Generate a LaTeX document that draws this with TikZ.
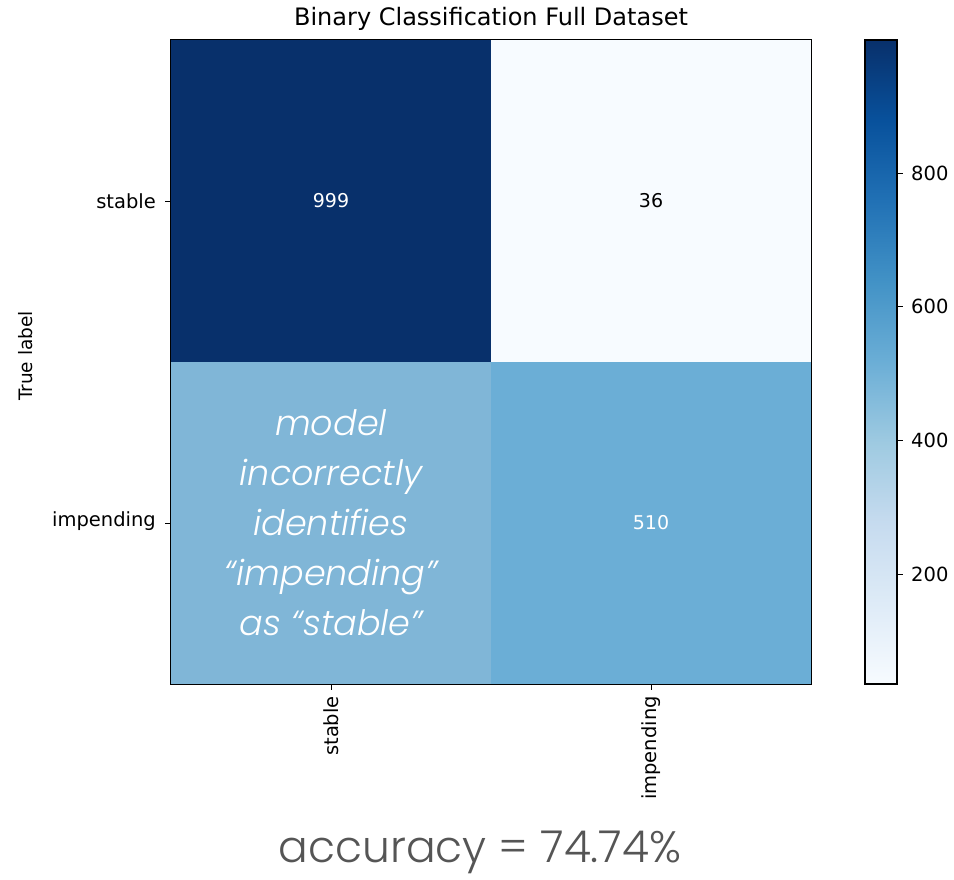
\documentclass[tikz,border=0pt]{standalone}
\usepackage{fontspec}
\setmainfont{DejaVu Sans}
\newfontfamily\notefont{Poppins Light}[ItalicFont={Poppins Light Italic}]
\usepackage{tikz}
\usetikzlibrary{positioning}

\definecolor{bluesA}{HTML}{F7FBFF}
\definecolor{bluesB}{HTML}{DEEBF7}
\definecolor{bluesC}{HTML}{C6DBEF}
\definecolor{bluesD}{HTML}{9ECAE1}
\definecolor{bluesE}{HTML}{6BAED6}
\definecolor{bluesF}{HTML}{4292C6}
\definecolor{bluesG}{HTML}{2171B5}
\definecolor{bluesH}{HTML}{08519C}
\definecolor{bluesI}{HTML}{08306B}
\definecolor{cellmiss}{HTML}{80B6D7}
\definecolor{cellhit}{HTML}{6BAED6}
\definecolor{accgray}{HTML}{555555}

\begin{document}
\begin{tikzpicture}[x=1pt, y=-1pt,
    cell/.style={minimum width=320pt, minimum height=322pt, inner sep=0pt, font=\fontsize{19}{22}\selectfont},
    ticklab/.style={font=\fontsize{19.5}{23}\selectfont, inner sep=0pt},
    tickmark/.style={line width=1pt},
    note/.style={font=\notefont\itshape\fontsize{35}{50}\selectfont, text=white, align=center},
  ]
  \useasboundingbox (0,0) rectangle (954,879);

  \node[font=\fontsize{24}{28}\selectfont] (title) at (491,19) {Binary Classification Full Dataset};

  % confusion matrix cells
  \node[cell, fill=bluesI, text=white] (ss) at (331,201) {999};
  \node[cell, fill=bluesA, text=black] (si) at (651,201) {36};
  \node[cell, fill=cellmiss] (is) at (331,523) {};
  \node[cell, fill=cellhit, text=white] (ii) at (651,523) {510};
  \draw[line width=1.2pt] (ss.north west) rectangle (ii.south east);

  % row ticks
  \draw[tickmark] (ss.west) -- ++(-6,0);
  \draw[tickmark] (is.west) -- ++(-6,0);
  \node[ticklab, anchor=east] (ystable) at (156,201) {stable};
  \node[ticklab, anchor=east] (yimp) at (156,521) {impending};
  \node[ticklab, font=\fontsize{18.5}{22}\selectfont, rotate=90] (ylab) at (26,356) {True label};

  % column ticks
  \draw[tickmark] (is.south) -- ++(0,6);
  \draw[tickmark] (ii.south) -- ++(0,6);
  \node[ticklab, rotate=90, anchor=east] (xstable) at (331,696) {stable};
  \node[ticklab, rotate=90, anchor=east] (ximp) at (651,696) {impending};

  % annotation over the hidden cell
  \node[note] (miss) at (is.center) {model\\incorrectly\\identifies\\“impending”\\as “stable”};

  % colour bar
  \foreach \i/\ca/\cb in {0/bluesA/bluesB, 1/bluesB/bluesC, 2/bluesC/bluesD, 3/bluesD/bluesE,
                          4/bluesE/bluesF, 5/bluesF/bluesG, 6/bluesG/bluesH, 7/bluesH/bluesI}
    \shade[bottom color=\ca, top color=\cb] (865,{684-\i*80.5}) rectangle (897,{684-(\i+1)*80.5});
  \draw[line width=1.2pt] (865,40) rectangle (897,684);
  \foreach \v in {200,400,600,800} {
    \draw[tickmark] (897,{684-(\v-36)/963*644}) -- ++(6,0);
    \node[ticklab, anchor=west] (cb\v) at (911,{684-(\v-36)/963*644}) {\v};
  }

  \node[font=\notefont\fontsize{44}{50}\selectfont, text=accgray] (acc) at (480,852) {accuracy = 74.74\%};
\end{tikzpicture}
\end{document}
